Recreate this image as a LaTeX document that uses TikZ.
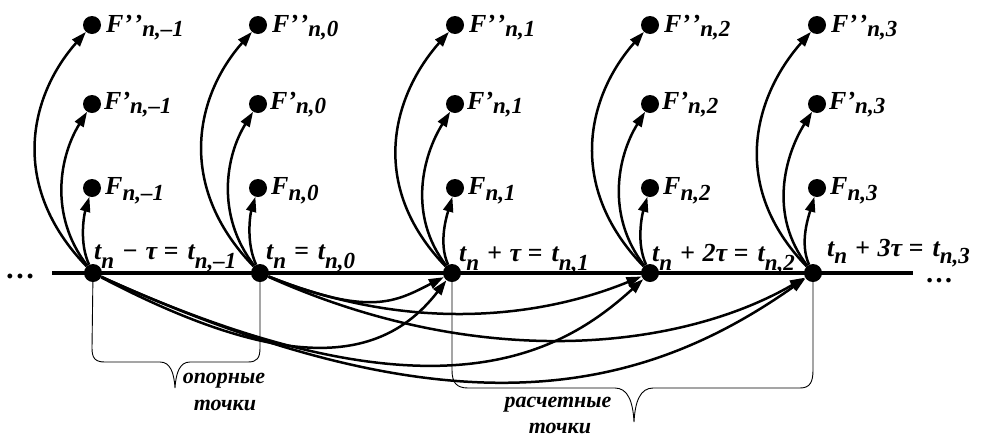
\documentclass[tikz,border=0pt]{standalone}
\usepackage{fontspec}
\setmainfont{Liberation Serif}
\usetikzlibrary{arrows.meta}
\newcommand\Sb[2][5]{\raisebox{-#1pt}{\fontsize{23}{23}\selectfont #2}}
\newcommand\myPrime{’}
\newcommand\myDPrime{’\kern1.5pt’}
\begin{document}
\begin{tikzpicture}[x=1pt,y=-1pt,
  dot/.style={circle,fill=black,inner sep=0pt,minimum size=18pt},
  lbl/.style={font=\fontsize{26}{26}\selectfont\bfseries\itshape,inner sep=0pt,anchor=base west},
  note/.style={font=\fontsize{22}{22}\selectfont\bfseries\itshape,inner sep=0pt,anchor=base},
  arr/.style={line width=2.5pt,-{Triangle[length=15pt,width=10pt]}},
  axisline/.style={line width=4pt},
  bracket/.style={line width=0.9pt}]
\useasboundingbox (0,0) rectangle (981,437);
\coordinate (axL) at (52,273);
\coordinate (axR) at (913,273);
\draw[axisline] (axL) -- (axR);
\node[lbl] (dl) at (6,278) {\fontsize{30}{30}\selectfont\smash{…}};
\node[lbl] (dr) at (926,282) {\fontsize{28}{28}\selectfont\smash{…}};
\foreach \i/\ax/\ux/\s in {1/93/92/{n,–1},2/260/258/{n,0},3/452/455/{n,1},4/650/650/{n,2},5/813/817/{n,3}}{
  \node[dot] (a\i) at (\ax,273) {};
  \node[dot] (f\i) at (\ux,188) {};
  \node[dot] (g\i) at (\ux,104) {};
  \node[dot] (h\i) at (\ux,25) {};
  \node[lbl] (lf\i) at (\ux+13,194) {F\Sb[6]{\s}};
  \node[lbl] (lg\i) at (\ux+12,109) {F\myPrime\Sb[4]{\s}};
  \node[lbl] (lh\i) at (\ux+14,32) {F\myDPrime\Sb[4]{\s}};
  \draw[arr] (a\i) .. controls (\ax-14,243) and (\ux-8,215) .. (f\i);
  \draw[arr] (a\i) .. controls (\ax-45,215) and (\ux-32,155) .. (g\i);
  \draw[arr] (a\i) .. controls (\ax-85,185) and (\ux-62,95) .. (h\i);
}
\node[lbl] (t1) at (94,259) {t\Sb[9]{n}\hspace{0.3em}−\hspace{0.3em}τ\hspace{0.25em}=\hspace{0.35em}t\Sb[9]{n,–1}};
\node[lbl] (t2) at (266,259) {t\Sb[9]{n}\hspace{0.3em}=\hspace{0.35em}t\Sb[9]{n,0}};
\node[lbl] (t3) at (459,261) {t\Sb[9]{n}\hspace{0.3em}+\hspace{0.3em}τ\hspace{0.25em}=\hspace{0.35em}t\Sb[9]{n,1}};
\node[lbl] (t4) at (652,261) {t\Sb[9]{n}\hspace{0.3em}+\hspace{0.3em}2τ\hspace{0.25em}=\hspace{0.35em}t\Sb[9]{n,2}};
\node[lbl] (t5) at (827,256) {t\Sb[7]{n}\hspace{0.3em}+\hspace{0.3em}3τ\hspace{0.25em}=\hspace{0.35em}t\Sb[7]{n,3}};
% lower arrows
\draw[arr] (a2) .. controls (370,317) and (395,302) .. (a3);
\draw[arr] (a2) .. controls (410,333) and (540,318) .. (a4);
\draw[arr] (a2) .. controls (480,372) and (680,350) .. (a5);
\draw[arr] (a1) .. controls (293,378) and (385,360) .. (a3);
\draw[arr] (a1) .. controls (433,428) and (560,355) .. (a4);
\draw[arr] (a1) .. controls (453,437) and (640,395) .. (a5);
% brackets
\draw[bracket] (a1) -- (92,348) .. controls (92,358) and (95,362) .. (105,362) -- (160,362)
  .. controls (170,362) and (174,372) .. (175,388) .. controls (176,372) and (180,362) .. (190,362)
  -- (248,362) .. controls (257,362) and (260,358) .. (260,348) -- (a2);
\draw[bracket] (a3) -- (452,370) .. controls (452,382) and (456,388) .. (468,388) -- (615,388)
  .. controls (628,388) and (633,402) .. (634,422) .. controls (635,402) and (640,388) .. (653,388)
  -- (800,388) .. controls (810,388) and (813,382) .. (813,370) -- (a5);
\node[note] (n1) at (224,383) {опорные};
\node[note] (n2) at (225,410) {точки};
\node[note] (n3) at (558,407) {расчетные};
\node[note] (n4) at (560,433) {точки};
\end{tikzpicture}
\end{document}
